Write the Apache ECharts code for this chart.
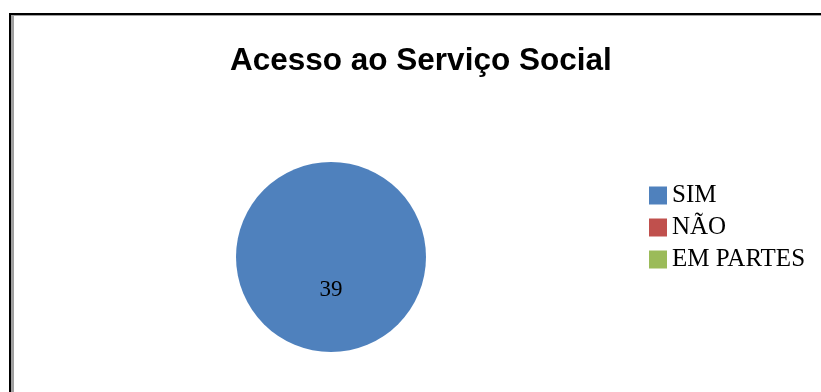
<!DOCTYPE html>
<html>
<head>
<meta charset="utf-8">
<script src="https://cdn.jsdelivr.net/npm/echarts@6/dist/echarts.min.js"></script>
<style>
  html, body { margin: 0; padding: 0; background: #fff; }
  #frame {
    position: absolute; left: 9px; top: 13px; width: 812px; height: 379px;
    border-left: 2px solid #000; border-top: 2px solid #000;
    box-shadow: inset 3px 1px 0 #a0a0a0;
  }
  #main { position: absolute; left: 0; top: 0; width: 821px; height: 392px; }
</style>
</head>
<body>
<div id="frame"></div>
<div id="main"></div>
<script>
// dados do grafico
var categorias = ['SIM', 'NÃO', 'EM PARTES'];
var valores = [39, 0, 0];
var cores = ['#4F81BD', '#C0504D', '#9BBB59'];

var myChart = echarts.init(document.getElementById('main'), null, { renderer: 'canvas' });

var dados = [];
for (var i = 0; i < categorias.length; i++) {
  dados.push({ name: categorias[i], value: valores[i] });
}

myChart.setOption({
  backgroundColor: 'transparent',
  color: cores,
  animation: false,
  title: {
    text: 'Acesso ao Serviço Social',
    left: 230,
    top: 45,
    padding: 0,
    textStyle: {
      color: '#000',
      fontFamily: 'Liberation Sans',
      fontWeight: 'bold',
      fontSize: 31.5
    }
  },
  legend: {
    orient: 'vertical',
    left: 649,
    top: 183,
    padding: 0,
    itemWidth: 18,
    itemHeight: 18,
    itemGap: 7,
    icon: 'rect',
    textStyle: {
      color: '#000',
      fontFamily: 'Liberation Serif',
      fontSize: 25
    },
    data: categorias
  },
  series: [{
    type: 'pie',
    center: [331, 257],
    radius: 95,
    startAngle: 90,
    silent: true,
    itemStyle: { borderWidth: 0 },
    label: {
      show: true,
      position: 'inside',
      color: '#000',
      fontFamily: 'Liberation Serif',
      fontSize: 23,
      offset: [0, -18],
      formatter: function (p) { return p.value > 0 ? String(p.value) : ''; }
    },
    labelLine: { show: false },
    data: dados
  }]
});
</script>
</body>
</html>
